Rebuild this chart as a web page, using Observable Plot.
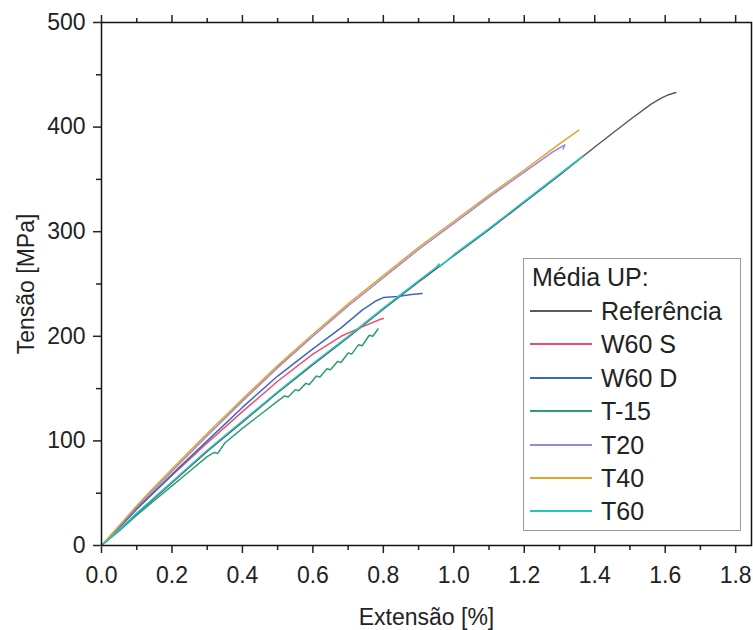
<!DOCTYPE html>
<html><head><meta charset="utf-8">
<script src="https://cdn.jsdelivr.net/npm/d3@7"></script>
<script src="https://cdn.jsdelivr.net/npm/@observablehq/plot@0.6"></script>
<style>
body{margin:0;background:#fff;font-family:"Liberation Sans",Arial,sans-serif}
#wrap{position:relative;width:753px;height:630px;overflow:hidden}
#legend{position:absolute;left:523px;top:258px;width:216px;height:271px;border:1.5px solid #9a9a9a;background:#fff;font-size:25px;color:#222}
#legend .title{position:absolute;left:8px;top:3px;line-height:30px}
#legend .row{position:absolute;left:6px;height:30px;line-height:30px;display:flex;align-items:center}
#legend .sw{width:62px;height:2px;margin-right:9px}
</style></head>
<body><div id="wrap"><div id="chart"></div><div id="legend"></div></div>
<script>
// ---- data ----
const seriesNames = ["Referência","W60 S","W60 D","T-15","T20","T40","T60"];
const seriesColors = ["#5a5a5a","#ef4f6c","#3d68c2","#2f9c78","#9c86d6","#e6a02e","#22c7c4"];
const xTicks = [0,0.2,0.4,0.6,0.8,1.0,1.2,1.4,1.6,1.8];
const xMinor = [0.1,0.3,0.5,0.7,0.9,1.1,1.3,1.5,1.7];
const yTicks = [0,100,200,300,400,500];
const yMinor = [50,150,250,350,450];

const referencia = [[0,0],[0.1,30],[0.2,60],[0.3,90],[0.4,118],[0.5,146],[0.6,173],[0.7,199],[0.8,226],[0.9,252],[1.0,277],[1.1,302],[1.2,328],[1.3,354],[1.4,381],[1.5,407],[1.56,422],[1.59,428],[1.61,431],[1.63,433]];
const w60s = [[0,0],[0.05,17],[0.1,35],[0.2,67],[0.3,98],[0.4,128],[0.5,157],[0.6,183],[0.68,200],[0.74,209],[0.79,216],[0.8,217]];
const w60d = [[0,0],[0.05,17],[0.1,35],[0.2,68],[0.3,100],[0.4,132],[0.5,162],[0.6,188],[0.68,208],[0.74,225],[0.78,234],[0.8,237],[0.84,238],[0.88,240],[0.91,241]];
const t15 = [[0,0],[0.05,14],[0.1,29],[0.15,43],[0.2,57],[0.25,71],[0.3,85],[0.32,89],[0.33,88],[0.35,98],[0.4,112],[0.45,125],[0.5,138],[0.52,143],[0.53,142],[0.55,149],[0.56,148],[0.58,155],[0.59,154],[0.61,162],[0.62,161],[0.64,169],[0.65,168],[0.67,176],[0.68,175],[0.7,184],[0.71,183],[0.73,192],[0.74,191],[0.76,201],[0.77,200],[0.785,207]];
const t20 = [[0,0],[0.05,18],[0.1,37],[0.15,54],[0.2,71],[0.3,105],[0.4,138],[0.5,170],[0.6,200],[0.7,229],[0.8,256],[0.9,283],[1.0,308],[1.1,333],[1.2,357],[1.28,376],[1.3,380],[1.315,383],[1.31,379]];
const t40 = [[0,0],[0.05,19],[0.1,38],[0.15,56],[0.2,73],[0.3,107],[0.4,140],[0.5,172],[0.6,202],[0.7,231],[0.8,258],[0.9,285],[1.0,310],[1.1,335],[1.2,359],[1.3,384],[1.355,397]];
const t60 = [[0,0],[0.05,15],[0.1,31],[0.2,61],[0.3,91],[0.4,119],[0.5,147],[0.6,174],[0.7,200],[0.8,227],[0.85,240],[0.9,253],[0.95,266],[0.958,269],[0.962,267],[1.0,278],[1.1,303],[1.2,329],[1.3,355],[1.365,372]];

const seriesData = [referencia, w60s, w60d, t15, t20, t40, t60];
const rows = [];
seriesData.forEach((pts, i) => pts.forEach(([x, y]) => rows.push({x, y, name: seriesNames[i]})));

const noText = () => "";
const chart = Plot.plot({
  width: 753, height: 630,
  marginLeft: 101, marginRight: 2, marginTop: 22, marginBottom: 85,
  style: {fontFamily: "Liberation Sans, Arial, sans-serif", fontSize: "23px", color: "#222", background: "transparent"},
  x: {domain: [0, 1.845]},
  y: {domain: [0, 500]},
  color: {domain: seriesNames, range: seriesColors},
  marks: [
    Plot.axisX(xTicks, {tickSize: 8, tickPadding: 13, strokeWidth: 1.5, tickFormat: d3.format(".1f"), label: "Extensão [%]", labelAnchor: "center", labelArrow: "none", labelOffset: 79}),
    Plot.axisX(xMinor, {tickSize: 5, strokeWidth: 1.5, tickFormat: noText, label: null}),
    Plot.axisX(xTicks, {anchor: "top", tickSize: 8, strokeWidth: 1.5, tickFormat: noText, label: null}),
    Plot.axisX(xMinor, {anchor: "top", tickSize: 5, strokeWidth: 1.5, tickFormat: noText, label: null}),
    Plot.axisY(yTicks, {tickSize: 8, tickPadding: 8, strokeWidth: 1.5, tickFormat: d3.format("d"), label: "Tensão [MPa]", labelAnchor: "center", labelArrow: "none", labelOffset: 84}),
    Plot.axisY(yMinor, {tickSize: 5, strokeWidth: 1.5, tickFormat: noText, label: null}),
    Plot.line(rows, {x: "x", y: "y", z: "name", stroke: "name", strokeWidth: 1.5}),
    Plot.frame({strokeWidth: 1.5, stroke: "#111"})
  ]
});
document.getElementById("chart").appendChild(chart);

// legend
const leg = document.getElementById("legend");
const t = document.createElement("div"); t.className = "title"; t.textContent = "Média UP:"; leg.appendChild(t);
seriesNames.forEach((n, i) => {
  const r = document.createElement("div"); r.className = "row";
  r.style.top = (37 + i * 33.4) + "px";
  const s = document.createElement("div"); s.className = "sw"; s.style.background = seriesColors[i];
  const l = document.createElement("span"); l.textContent = n;
  r.appendChild(s); r.appendChild(l); leg.appendChild(r);
});
</script></body></html>
